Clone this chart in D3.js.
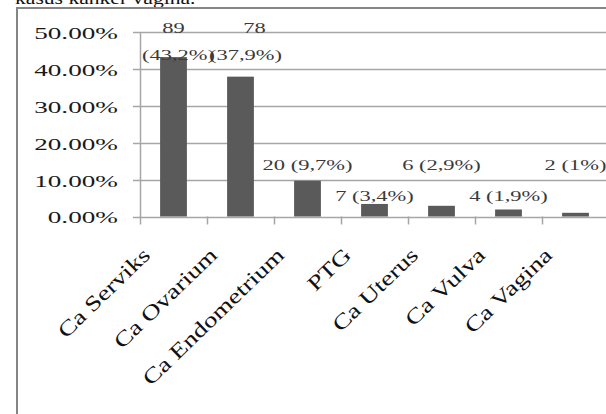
<!DOCTYPE html>
<html>
<head>
<meta charset="utf-8">
<script src="https://cdn.jsdelivr.net/npm/d3@7"></script>
<style>
  html, body { margin: 0; padding: 0; background: #fff; }
  svg { display: block; }
  text { font-family: "Liberation Serif", "Times New Roman", serif; }
</style>
</head>
<body>
<svg id="chart" width="606" height="414"></svg>
<script>
// Gynecologic cancer cases by type
const categories = ["Ca Serviks", "Ca Ovarium", "Ca Endometrium", "PTG", "Ca Uterus", "Ca Vulva", "Ca Vagina"];
const counts = [89, 78, 20, 7, 6, 4, 2];
const percents = [43.2, 37.9, 9.7, 3.4, 2.9, 1.9, 1.0];
const percentLabels = ["43,2%", "37,9%", "9,7%", "3,4%", "2,9%", "1,9%", "1%"];
const yTicks = [0, 0.1, 0.2, 0.3, 0.4, 0.5];
const captionText = "kasus kanker vagina.";

const svg = d3.select("#chart");
const SX = 1.6;           // horizontal text stretch
const gridColor = "#a6a6a6";

// caption line above the chart frame
svg.append("text")
  .attr("transform", `translate(15,4) scale(1.35,1)`)
  .attr("font-size", 16).attr("fill", "#111")
  .text(captionText);

// chart frame
svg.append("rect")
  .attr("x", 17).attr("y", 8).attr("width", 700).attr("height", 500)
  .attr("fill", "#fff").attr("stroke", "#858585").attr("stroke-width", 2);

const plot = { left: 140, right: 609, top: 32, bottom: 216.5 };

const x = d3.scaleBand().domain(categories)
  .range([plot.left, plot.right]).paddingInner(0.6).paddingOuter(0.3);
const y = d3.scaleLinear().domain([0, 0.5]).range([plot.bottom, plot.top]);

// horizontal gridlines
svg.append("g").selectAll("line").data(yTicks).join("line")
  .attr("x1", plot.left - 7).attr("x2", 606)
  .attr("y1", d => Math.round(y(d)) + 0.5).attr("y2", d => Math.round(y(d)) + 0.5)
  .attr("stroke", gridColor).attr("stroke-width", 1.5);

// vertical axis line
svg.append("line")
  .attr("x1", plot.left + 0.5).attr("x2", plot.left + 0.5)
  .attr("y1", y(0.5)).attr("y2", y(0) + 1)
  .attr("stroke", gridColor).attr("stroke-width", 1.5);

// category tick marks at band boundaries
const step = x.step();
const x0 = plot.left;
svg.append("g").selectAll("line").data(d3.range(categories.length + 1)).join("line")
  .attr("x1", i => x0 + i * step + 0.5).attr("x2", i => x0 + i * step + 0.5)
  .attr("y1", y(0)).attr("y2", y(0) + 8)
  .attr("stroke", gridColor).attr("stroke-width", 1.5);

// y tick labels
const fmt = d3.format(".2%");
svg.append("g").selectAll("text").data(yTicks).join("text")
  .attr("transform", d => `translate(118,${y(d) + 1}) scale(${SX},1)`)
  .attr("dy", "0.35em").attr("text-anchor", "end")
  .attr("font-size", 17).attr("fill", "#1a1a1a")
  .text(d => fmt(d));

// bars
svg.append("g").selectAll("rect").data(categories).join("rect")
  .attr("x", d => x(d))
  .attr("y", (d, i) => y(percents[i] / 100))
  .attr("width", x.bandwidth())
  .attr("height", (d, i) => y(0) - y(percents[i] / 100))
  .attr("fill", "#5a5a5a");

// value labels: large bars get a two-line label on the top row,
// small bars alternate between rows just above and below the 10% gridline
const labelG = svg.append("g").attr("fill", "#3a3a3a").attr("font-size", 15);
categories.forEach((c, i) => {
  const cx = x(c) + x.bandwidth() / 2;
  const v = percents[i] / 100;
  if (v > 0.3) {
    labelG.append("text")
      .attr("transform", `translate(${cx + (i ? 14 : 0)},${y(0.5) + 1}) scale(1.5,1)`)
      .attr("text-anchor", "middle").text(counts[i]);
    labelG.append("text")
      .attr("transform", `translate(${cx + 5},${y(0.5) + 28}) scale(1.5,1)`)
      .attr("text-anchor", "middle").text(`(${percentLabels[i]})`);
  } else {
    const ly = (i % 2 === 0) ? y(0.1) - 10 : y(0.1) + 21;
    labelG.append("text")
      .attr("transform", `translate(${cx},${ly}) scale(1.5,1)`)
      .attr("text-anchor", "middle").text(`${counts[i]} (${percentLabels[i]})`);
  }
});

// rotated category labels, slightly stretched along their baseline
const ROT = 44;
svg.append("g").selectAll("text").data(categories).join("text")
  .attr("transform", d => `translate(${x(d) + x.bandwidth() / 2 - 22},${y(0) + 40}) rotate(${-ROT}) scale(1.3,1)`)
  .attr("text-anchor", "end")
  .attr("font-size", 21).attr("fill", "#111")
  .text(d => d);
</script>
</body>
</html>
